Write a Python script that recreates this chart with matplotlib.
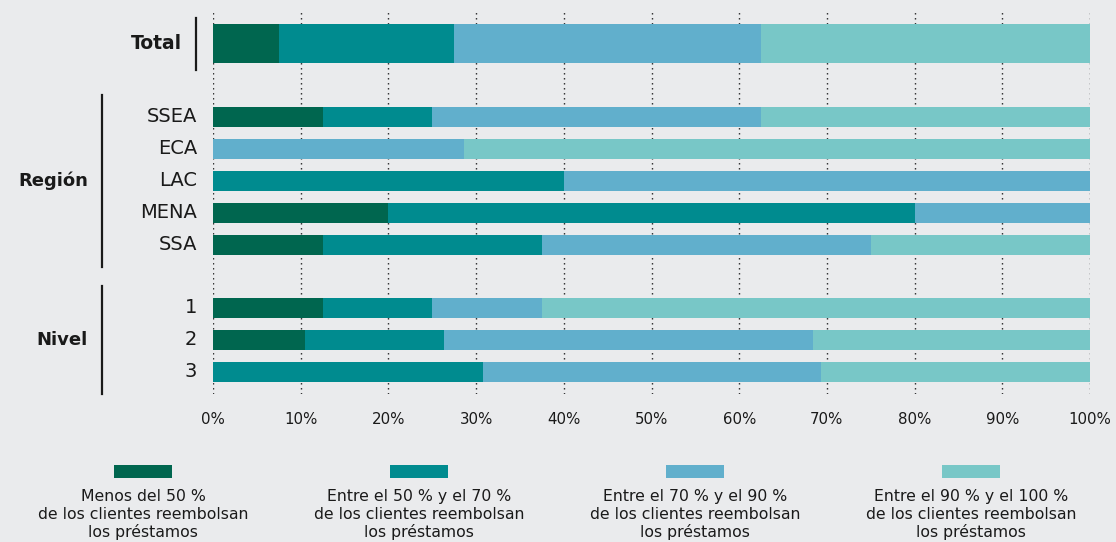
import matplotlib
matplotlib.use("Agg")
import matplotlib.pyplot as plt
from matplotlib.transforms import blended_transform_factory
from matplotlib.patches import Rectangle
from matplotlib.lines import Line2D

# ---- data ----
categories = ["Total", "SSEA", "ECA", "LAC", "MENA", "SSA", "1", "2", "3"]
menos_50 = [7.5, 12.5, 0, 0, 20, 12.5, 12.5, 10.5, 0]
entre_50_70 = [20, 12.5, 0, 40, 60, 25, 12.5, 15.8, 30.8]
entre_70_90 = [35, 37.5, 28.6, 60, 20, 37.5, 12.5, 42.1, 38.5]
entre_90_100 = [37.5, 37.5, 71.4, 0, 0, 25, 62.5, 31.6, 30.7]
series_labels = [
    "Menos del 50 %\nde los clientes reembolsan\nlos préstamos",
    "Entre el 50 % y el 70 %\nde los clientes reembolsan\nlos préstamos",
    "Entre el 70 % y el 90 %\nde los clientes reembolsan\nlos préstamos",
    "Entre el 90 % y el 100 %\nde los clientes reembolsan\nlos préstamos",
]
xticks = [0, 10, 20, 30, 40, 50, 60, 70, 80, 90, 100]
xtick_labels = [f"{t}%" for t in xticks]
groups = ["Región", "Nivel"]

# ---- style / layout ----
colors = ["#00664F", "#008B8F", "#61AFCC", "#78C7C7"]
bg = "#EAEBED"
W, H = 1116, 542
# row positions (in row units, 1 unit = 32 px)
ypos = [0, 2.30, 3.30, 4.30, 5.30, 6.30, 8.27, 9.27, 10.27]
heights = [1.21] + [0.625] * 8

plt.rcParams['font.family'] = ['DejaVu Sans']
fig = plt.figure(figsize=(W / 100, H / 100), dpi=100, facecolor=bg)
ax = fig.add_axes([213 / W, (H - 394) / H, (1090 - 213) / W, (394 - 12) / H])
ax.set_facecolor(bg)

series = [menos_50, entre_50_70, entre_70_90, entre_90_100]
left = [0] * len(categories)
for vals, col in zip(series, colors):
    ax.barh(ypos, vals, left=left, height=heights, color=col, zorder=3, linewidth=0)
    left = [l + v for l, v in zip(left, vals)]

ax.set_xlim(0, 100)
ax.set_ylim(10.96, -0.98)
for t in xticks:
    ax.axvline(t, color="#222222", linestyle=(0, (1, 2.6)), linewidth=1.0, zorder=1)
ax.set_xticks(xticks)
ax.set_xticklabels(xtick_labels, fontsize=10.8, color="#1a1a1a")
ax.tick_params(axis="x", length=0, pad=13)
ax.set_yticks([])
for s in ax.spines.values():
    s.set_visible(False)

trans = blended_transform_factory(fig.transFigure, ax.transData)
# category labels
for i, (cat, y) in enumerate(zip(categories, ypos)):
    if i == 0:
        ax.text(182 / W, y, cat, transform=trans, ha="right", va="center",
                fontsize=13.5, fontweight="bold", color="#1a1a1a")
    else:
        ax.text(197 / W, y, cat, transform=trans, ha="right", va="center",
                fontsize=14, color="#1a1a1a")

# group labels and brackets
ax.text(88 / W, 4.30, groups[0], transform=trans, ha="right", va="center",
        fontsize=13, fontweight="bold", color="#1a1a1a")
ax.text(88 / W, 9.27, groups[1], transform=trans, ha="right", va="center",
        fontsize=13, fontweight="bold", color="#1a1a1a")
for x, y0, y1 in [(196, -0.79, 0.83), (102, 1.62, 6.99), (102, 7.58, 10.96)]:
    ax.add_line(Line2D([x / W, x / W], [y0, y1], transform=trans, color="#1a1a1a",
                       linewidth=1.6, clip_on=False))

# legend
centers = [143, 419, 695, 971]
for c, col, lab in zip(centers, colors, series_labels):
    fig.patches.append(Rectangle(((c - 29) / W, (H - 478) / H), 58 / W, 13 / H,
                                 transform=fig.transFigure, color=col, linewidth=0))
    fig.text(c / W, (H - 489) / H, lab, ha="center", va="top", fontsize=11.3,
             color="#1a1a1a", linespacing=1.22)

fig.savefig("out.png", dpi=100, facecolor=bg)
